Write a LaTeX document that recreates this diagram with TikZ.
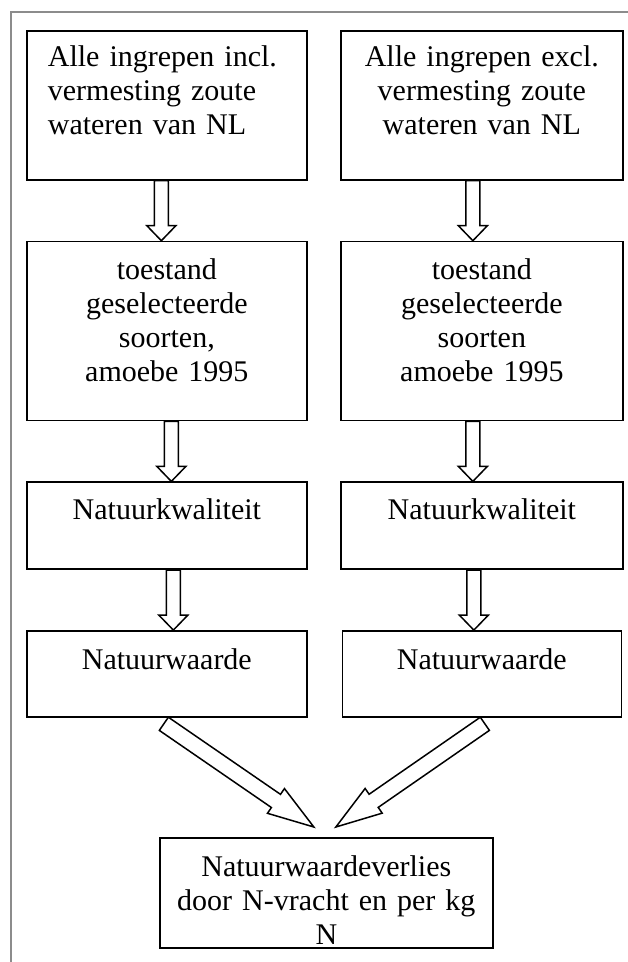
\documentclass[tikz,border=0pt]{standalone}
\usepackage{fontspec}
\setmainfont{Liberation Serif}
\usetikzlibrary{positioning,calc}

\tikzset{
  blok/.style={draw, line width=1.7pt, inner sep=0pt, text width=280pt, align=center},
  blokpijl/.style n args={3}{draw, line width=1.5pt, fill=white, to path={
    ($(\tikztostart)!#1!90:(\tikztotarget)$)
    -- ($($(\tikztotarget)!#3!(\tikztostart)$)!#1!90:(\tikztotarget)$)
    -- ($($(\tikztotarget)!#3!(\tikztostart)$)!#2!90:(\tikztotarget)$)
    -- (\tikztotarget)
    -- ($($(\tikztotarget)!#3!(\tikztostart)$)!#2!-90:(\tikztotarget)$)
    -- ($($(\tikztotarget)!#3!(\tikztostart)$)!#1!-90:(\tikztotarget)$)
    -- ($(\tikztostart)!#1!-90:(\tikztotarget)$) -- cycle}}
}

\begin{document}
\begin{tikzpicture}[x=1pt, y=-1pt, font=\fontsize{30}{34}\selectfont, node distance=60pt]
\useasboundingbox (0,0) rectangle (628,962);
\draw[line width=1.5pt, gray!90] (11,962) -- (11,12) -- (628,12);

\node[blok, anchor=north west, align=left, text width=238pt, inner xsep=21pt, text height=36pt, text depth=113pt] (l1) at (26,30) {Alle ingrepen incl.\\vermesting zoute\\wateren van NL};
\node[blok, anchor=north west, text width=282pt, text height=36pt, text depth=113pt] (r1) at (340,30) {Alle ingrepen excl.\\vermesting zoute\\wateren van NL};
\node[blok, below=of l1, text height=38pt, text depth=141pt] (l2) {toestand\\geselecteerde\\soorten,\\amoebe 1995};
\node[blok, below=of r1, text width=282pt, text height=38pt, text depth=141pt] (r2) {toestand\\geselecteerde\\soorten\\amoebe 1995};
\node[blok, below=of l2, text height=37pt, text depth=50pt] (l3) {Natuurkwaliteit};
\node[blok, below=of r2, text width=282pt, text height=37pt, text depth=50pt] (r3) {Natuurkwaliteit};
\node[blok, below=of l3, text height=39pt, text depth=47pt] (l4) {Natuurwaarde};
\node[blok, below=of r3, text width=279pt, text height=39pt, text depth=47pt] (r4) {Natuurwaarde};
\node[blok, anchor=north west, text width=333pt, text height=39pt, text depth=71pt] (eind) at (159,837) {Natuurwaardeverlies\\door N-vracht en per kg\\N};

\foreach \a/\b/\s in {l1/l2/-5.5, l2/l3/4.5, l3/l4/6.5, r1/r2/-9, r2/r3/-9, r3/r4/-8}
  \draw[blokpijl={7pt}{14.5pt}{15pt}] ([xshift=\s pt]\a.south) to ([xshift=\s pt]\b.north);
\draw[blokpijl={8pt}{15pt}{46pt}] ([xshift=-3pt,yshift=-6pt]l4.south) to ([xshift=-12.5pt,yshift=10pt]eind.north);
\draw[blokpijl={8pt}{15pt}{46pt}] ([xshift=3pt,yshift=-6pt]r4.south) to ([xshift=9.5pt,yshift=10pt]eind.north);
\end{tikzpicture}
\end{document}
